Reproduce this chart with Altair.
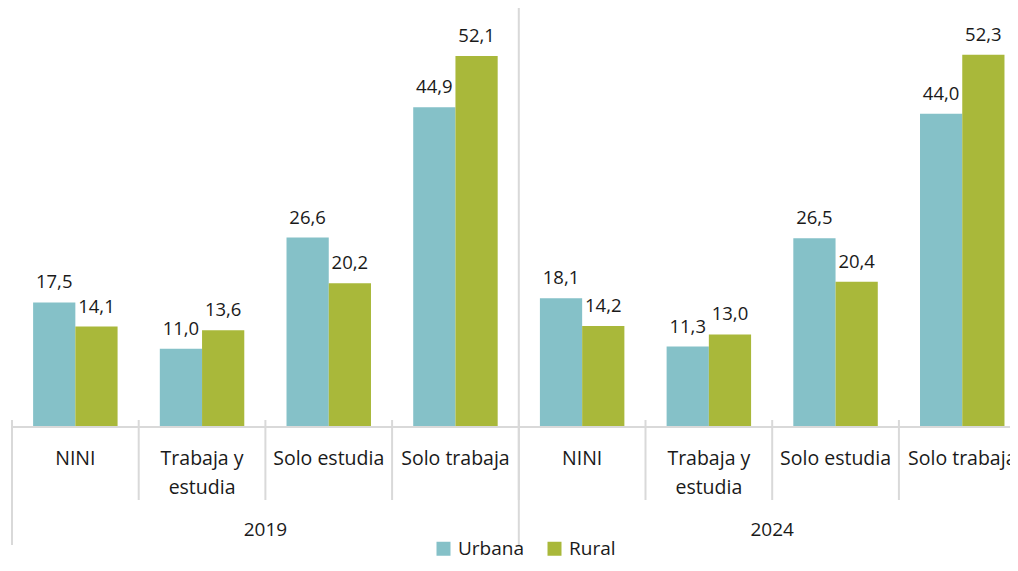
import altair as alt
import pandas as pd

years = ["2019", "2024"]
categories = ["NINI", "Trabaja y\nestudia", "Solo estudia", "Solo trabaja"]
series = ["Urbana", "Rural"]
urbana = [17.5, 11.0, 26.6, 44.9, 18.1, 11.3, 26.5, 44.0]
rural = [14.1, 13.6, 20.2, 52.1, 14.2, 13.0, 20.4, 52.3]
colors = ["#85C1C8", "#A9B83A"]

slots = [f"{y}|{c}" for y in years for c in categories]

rows = []
for i, s in enumerate(slots):
    y, c = s.split("|")
    rows.append({"slot": s, "year": y, "cat": c, "serie": "Urbana", "value": urbana[i]})
    rows.append({"slot": s, "year": y, "cat": c, "serie": "Rural", "value": rural[i]})
df = pd.DataFrame(rows)
slot_df = pd.DataFrame({"slot": slots, "cat": [s.split("|")[1] for s in slots]})
year_df = pd.DataFrame({"year": years})

FONT = "Open Sans"
GRID = "#D9D9D9"
TXT = "#1A1A1A"

xscale = alt.Scale(domain=slots, range=[0, 1013.6], paddingInner=0, paddingOuter=0)
yrscale = alt.Scale(domain=years, range=[0, 1013.6], paddingInner=0, paddingOuter=0)
yscale = alt.Scale(domain=[0, 58.85], nice=False, zero=True)
xo = alt.XOffset("serie:N", scale=alt.Scale(domain=series, paddingOuter=0.5, paddingInner=0), sort=series)

X = alt.X("slot:N", scale=xscale, axis=None, sort=slots)
Y = alt.Y("value:Q", scale=yscale, axis=None)

bars = alt.Chart(df).mark_bar().encode(
    x=X, xOffset=xo, y=Y,
    color=alt.Color("serie:N", scale=alt.Scale(domain=series, range=colors), sort=series,
                    legend=alt.Legend(title=None, orient="none", direction="horizontal",
                                      legendX=422, legendY=531, symbolType="square",
                                      symbolSize=196, symbolStrokeWidth=0, labelFont=FONT,
                                      labelFontSize=19, labelColor=TXT, labelOffset=5,
                                      columnPadding=20)),
)

values = alt.Chart(df).transform_calculate(
    label="replace(format(datum.value, '.1f'), '.', ',')"
).mark_text(dy=-14, baseline="alphabetic", font=FONT, fontSize=18.5, color=TXT).encode(
    x=X, xOffset=xo, y=Y, text="label:N"
)

base = alt.Chart(pd.DataFrame({"v": [0]})).mark_rule(color=GRID, strokeWidth=2).encode(
    y=alt.Y("v:Q", scale=yscale, axis=None)
)

ticks = alt.Chart(slot_df).mark_rule(color=GRID, strokeWidth=2).encode(
    x=alt.X("slot:N", scale=xscale, axis=None, sort=slots, bandPosition=0),
    y=alt.value(412), y2=alt.value(492),
)

catlabels = alt.Chart(slot_df).mark_text(
    baseline="alphabetic", font=FONT, fontSize=19.5, color=TXT, lineBreak="\n", lineHeight=29
).encode(
    x=alt.X("slot:N", scale=xscale, axis=None, sort=slots),
    y=alt.value(457), text="cat:N",
)

yr_rules = alt.Chart(year_df).mark_rule(color=GRID, strokeWidth=2).encode(
    x=alt.X("year:N", scale=yrscale, axis=None, bandPosition=0),
    y=alt.value(412), y2=alt.value(537),
)

yr_full = alt.Chart(year_df).transform_filter(alt.datum.year == "2024").mark_rule(
    color=GRID, strokeWidth=2
).encode(
    x=alt.X("year:N", scale=yrscale, axis=None, bandPosition=0),
    y=alt.value(-3), y2=alt.value(412),
)

yr_labels = alt.Chart(year_df).mark_text(
    baseline="alphabetic", font=FONT, fontSize=19, color=TXT
).encode(
    x=alt.X("year:N", scale=yrscale, axis=None),
    y=alt.value(528), text="year:N",
)

chart = alt.layer(
    bars, values, base, ticks, catlabels, yr_rules, yr_full, yr_labels
).resolve_scale(x="independent").properties(
    width=998, height=419,
    autosize=alt.AutoSizeParams(type="none"),
    padding={"left": 4, "top": 0, "right": 0, "bottom": 136},
).configure(font=FONT).configure_view(stroke=None)

chart.save("out.html", embed_options={"renderer": "svg", "actions": False})
